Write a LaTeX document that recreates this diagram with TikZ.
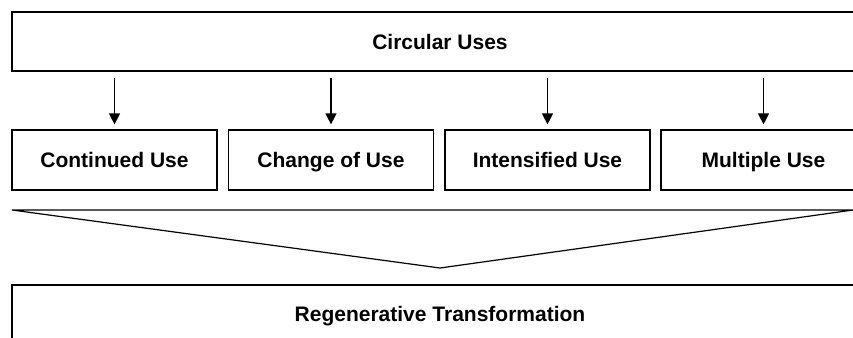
\documentclass[tikz,border=0pt]{standalone}
\usepackage{fontspec}
\setmainfont{Liberation Sans}
\usepackage{tikz}
\usetikzlibrary{arrows.meta}
\usetikzlibrary{positioning}

\begin{document}
\begin{tikzpicture}[x=1pt, y=-1pt,
    usebox/.style={draw, line width=1.2pt, inner sep=0pt, minimum height=59pt,
      text height=15pt, text depth=0pt,
      font=\fontsize{21}{24}\selectfont\bfseries},
    downarrow/.style={line width=1.2pt, -{Triangle[width=11pt,length=11pt]},
      shorten <=6pt, shorten >=5pt}]
      \useasboundingbox (0, 0) rectangle (853, 337);
      \clip (0, 0) rectangle (853, 337);

      \node [usebox, minimum width=856pt] (uses) at (440, 41.5) {Circular Uses};

      \node [usebox, minimum width=205pt, minimum height=60pt] (continued) at (114.5, 160) {Continued Use};
      \node [usebox, minimum width=205pt, minimum height=60pt] (change) at (331, 160) {Change of Use};
      \node [usebox, minimum width=205pt, minimum height=60pt] (intense) at (547.5, 160) {Intensified Use};
      \node [usebox, minimum width=205pt, minimum height=60pt] (multiple) at (763.5, 160) {Multiple Use};

      \foreach \n in {continued, change, intense, multiple}
        \draw [downarrow] (uses.south -| \n.north) -- (\n.north);

      \coordinate (funnel left) at (12, 210);
      \coordinate (funnel right) at (853, 210);
      \coordinate (funnel tip) at (440, 268);
      \draw [line width=1.2pt] (funnel left) -- (funnel right) -- (funnel tip) -- cycle;

      \node [usebox, minimum width=856pt, minimum height=58pt] (regen) at (440, 314) {Regenerative Transformation};
    \end{tikzpicture}
\end{document}
